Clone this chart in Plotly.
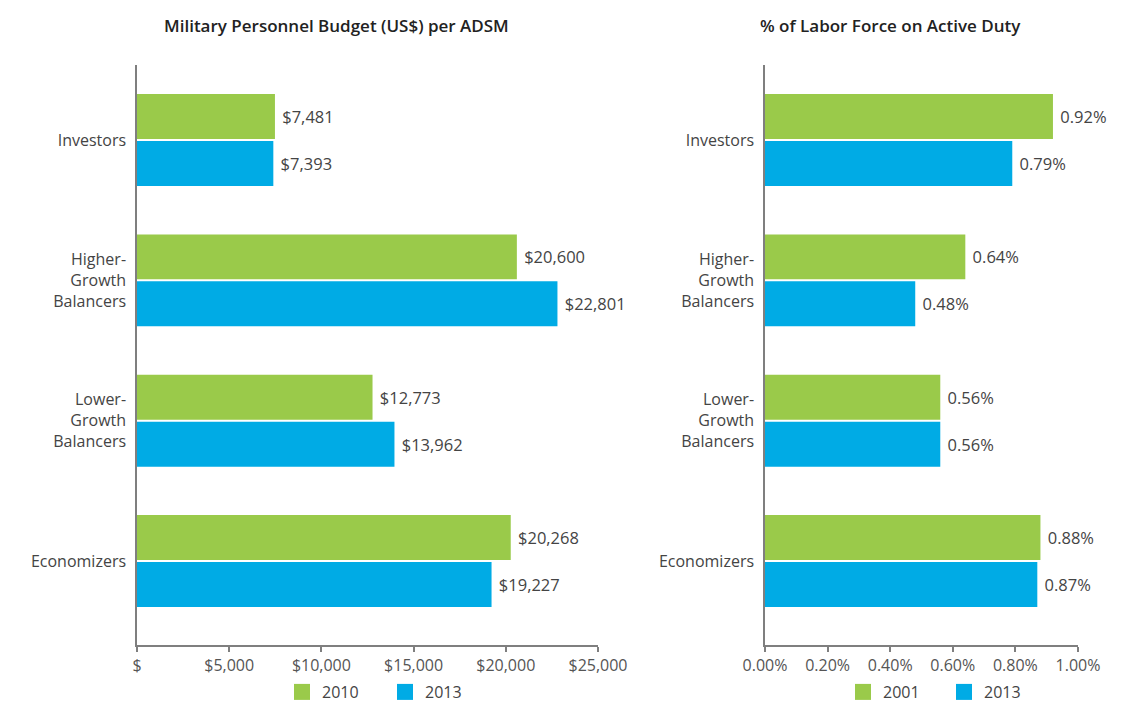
import plotly.graph_objects as go

categories = ["Investors", "Higher-<br>Growth<br>Balancers", "Lower-<br>Growth<br>Balancers", "Economizers"]

budget_2010 = [7481, 20600, 12773, 20268]
budget_2013 = [7393, 22801, 13962, 19227]

labor_2001 = [0.92, 0.64, 0.56, 0.88]
labor_2013 = [0.79, 0.48, 0.56, 0.87]

left_ticks = [0, 5000, 10000, 15000, 20000, 25000]
left_ticktext = ["$", "$5,000", "$10,000", "$15,000", "$20,000", "$25,000"]
right_ticks = [0, 0.2, 0.4, 0.6, 0.8, 1.0]
right_ticktext = ["0.00%", "0.20%", "0.40%", "0.60%", "0.80%", "1.00%"]

GREEN = "#9ACA4A"
BLUE = "#00ABE5"
FONT = "Open Sans"
TXT = "#444444"
AX = "#7f7f7f"
PAD = "\u00a0"

# page body has an 8px default margin
OFF = 8
W, H = 1119, 697


def px(x):
    return (x - OFF) / W


def py(y):
    return (H - (y - OFF)) / H


fig = go.Figure()

label_font = dict(family=FONT, size=16.5, color=TXT)


def add_series(values, name, color, fmt, xa, ya, leg):
    fig.add_trace(go.Bar(
        y=categories, x=values, orientation="h", name=name,
        marker=dict(color=color, line=dict(width=0)),
        text=[PAD + fmt(v) for v in values], textposition="outside",
        textfont=label_font, cliponaxis=False, showlegend=False,
        xaxis=xa, yaxis=ya,
    ))
    # legend swatch (larger square than the default bar icon)
    fig.add_trace(go.Scatter(
        x=[None], y=[None], mode="markers", name=name,
        marker=dict(symbol="square", size=17, color=color, line=dict(width=0)),
        xaxis=xa, yaxis=ya, legend=leg, showlegend=True, hoverinfo="skip",
    ))


usd = lambda v: f"${v:,}"
pct = lambda v: f"{v:.2f}%"

add_series(budget_2010, "2010", GREEN, usd, "x", "y", "legend")
add_series(budget_2013, "2013", BLUE, usd, "x", "y", "legend")
add_series(labor_2001, "2001", GREEN, pct, "x2", "y2", "legend2")
add_series(labor_2013, "2013", BLUE, pct, "x2", "y2", "legend2")

ydom = [py(645), py(65)]
yrange = [3.598, -0.534]

common_x = dict(
    showgrid=False, zeroline=False, showline=True, linecolor=AX, linewidth=1.5,
    ticks="outside", ticklen=5, tickcolor=AX, tickwidth=1.5,
    tickfont=dict(family=FONT, size=16, color="#555555"), fixedrange=True,
    automargin=False,
)
common_y = dict(
    showgrid=False, zeroline=False, showline=True, linecolor=AX, linewidth=1.5,
    ticks="", tickfont=dict(family=FONT, size=16, color=TXT),
    type="category", categoryorder="array", categoryarray=categories,
    range=yrange, domain=ydom, ticklabelstandoff=6, automargin=False,
)

fig.update_layout(
    width=W, height=H,
    margin=dict(l=0, r=0, t=0, b=0, autoexpand=False),
    paper_bgcolor="white", plot_bgcolor="white",
    barmode="group", bargap=0.331, bargroupgap=0.043,
    xaxis=dict(domain=[px(137), px(598)], range=[0, 25000],
               tickvals=left_ticks, ticktext=left_ticktext, anchor="y", **common_x),
    yaxis=dict(anchor="x", **common_y),
    xaxis2=dict(domain=[px(765), px(1078)], range=[0, 1.0],
                tickvals=right_ticks, ticktext=right_ticktext, anchor="y2", **common_x),
    yaxis2=dict(anchor="x2", **common_y),
    legend=dict(orientation="h", x=px(282), xanchor="left", y=py(692), yanchor="middle",
                font=dict(family=FONT, size=16, color=TXT), entrywidth=58,
                bgcolor="rgba(0,0,0,0)"),
    legend2=dict(orientation="h", x=px(843), xanchor="left", y=py(692), yanchor="middle",
                 font=dict(family=FONT, size=16, color=TXT), entrywidth=56,
                 bgcolor="rgba(0,0,0,0)"),
    showlegend=True,
    annotations=[
        dict(text="Military Personnel Budget (US$) per ADSM", x=px(336), y=py(25),
             xref="paper", yref="paper", showarrow=False, xanchor="center", yanchor="middle",
             font=dict(family=FONT, size=17, color="#222222", weight=600)),
        dict(text="% of Labor Force on Active Duty", x=px(890), y=py(25),
             xref="paper", yref="paper", showarrow=False, xanchor="center", yanchor="middle",
             font=dict(family=FONT, size=17, color="#222222", weight=600)),
    ],
)

fig.write_html("out.html")
